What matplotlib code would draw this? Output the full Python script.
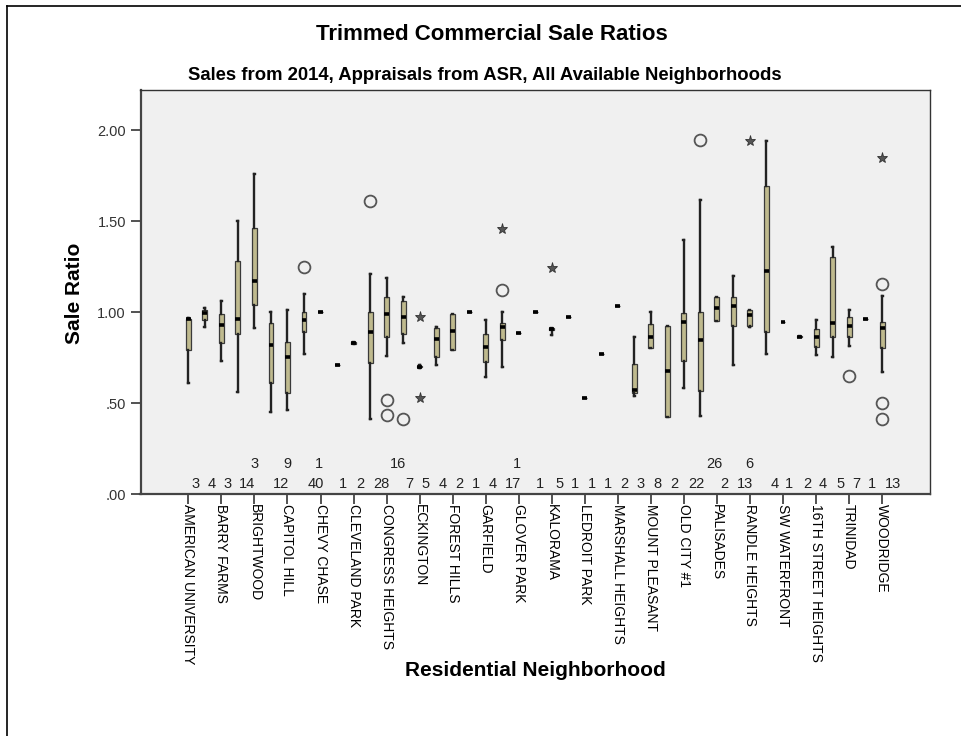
import numpy as np
import matplotlib.pyplot as plt
from matplotlib.lines import Line2D

plt.rcParams['font.family'] = ['Liberation Sans', 'DejaVu Sans']

# labelled neighborhoods (every other category carries a tick label)
labels = ["AMERICAN UNIVERSITY", "BARRY FARMS", "BRIGHTWOOD", "CAPITOL HILL",
          "CHEVY CHASE", "CLEVELAND PARK", "CONGRESS HEIGHTS", "ECKINGTON",
          "FOREST HILLS", "GARFIELD", "GLOVER PARK", "KALORAMA", "LEDROIT PARK",
          "MARSHALL HEIGHTS", "MOUNT PLEASANT", "OLD CITY #1", "PALISADES",
          "RANDLE HEIGHTS", "SW WATERFRONT", "16TH STREET HEIGHTS", "TRINIDAD",
          "WOODRIDGE"]

# five-number summaries for the 43 neighborhoods, left to right
whislo = [0.61, 0.92, 0.73, 0.56, 0.91, 0.45, 0.46, 0.77, 1.00, 0.71, 0.83,
          0.41, 0.76, 0.83, 0.695, 0.71, 0.79, 1.00, 0.645, 0.70, 0.885, 1.00,
          0.875, 0.975, 0.525, 0.77, 1.035, 0.54, 0.80, 0.425, 0.58, 0.43,
          0.95, 0.71, 0.915, 0.77, 0.945, 0.865, 0.765, 0.755, 0.815, 0.96, 0.67]
q1 = [0.79, 0.955, 0.83, 0.88, 1.04, 0.61, 0.555, 0.89, 1.00, 0.71, 0.825,
      0.72, 0.865, 0.88, 0.697, 0.755, 0.79, 1.00, 0.725, 0.845, 0.885, 1.00,
      0.90, 0.975, 0.525, 0.77, 1.035, 0.555, 0.80, 0.425, 0.73, 0.565,
      0.95, 0.925, 0.925, 0.89, 0.945, 0.86, 0.81, 0.865, 0.86, 0.96, 0.805]
med = [0.96, 0.995, 0.93, 0.96, 1.17, 0.82, 0.755, 0.955, 1.00, 0.71, 0.83,
       0.89, 0.99, 0.97, 0.70, 0.85, 0.895, 1.00, 0.81, 0.915, 0.885, 1.00,
       0.905, 0.975, 0.525, 0.77, 1.035, 0.57, 0.86, 0.675, 0.945, 0.845,
       1.02, 1.035, 0.985, 1.225, 0.945, 0.865, 0.86, 0.94, 0.925, 0.96, 0.91]
q3 = [0.96, 1.01, 0.99, 1.28, 1.46, 0.94, 0.835, 1.00, 1.00, 0.71, 0.835,
      1.00, 1.08, 1.06, 0.705, 0.91, 0.99, 1.00, 0.88, 0.94, 0.885, 1.00,
      0.912, 0.975, 0.525, 0.77, 1.035, 0.715, 0.935, 0.925, 0.995, 1.00,
      1.08, 1.08, 1.01, 1.69, 0.945, 0.87, 0.905, 1.30, 0.97, 0.96, 0.945]
whishi = [0.965, 1.02, 1.06, 1.50, 1.76, 1.00, 1.01, 1.10, 1.00, 0.71, 0.835,
          1.21, 1.185, 1.085, 0.71, 0.92, 0.99, 1.00, 0.955, 1.00, 0.885, 1.00,
          0.912, 0.975, 0.525, 0.77, 1.035, 0.865, 1.00, 0.925, 1.395, 1.615,
          1.08, 1.20, 1.01, 1.94, 0.945, 0.87, 0.955, 1.36, 1.01, 0.96, 1.09]

# outliers (circles) and extremes (stars) by category index
outliers = {7: [1.25], 11: [1.61], 12: [0.515, 0.435], 13: [0.41], 19: [1.12],
            31: [1.945], 40: [0.65], 42: [1.155, 0.50, 0.41]}
extremes = {14: [0.975, 0.53], 19: [1.455], 22: [1.24], 34: [1.94], 42: [1.845]}

# numbers printed along the bottom of the plot
low_text = ["3", "4", "3", "14", "12", "40", "1", "2", "28", "7", "5", "4", "2",
            "1", "4", "17", "1", "5", "1", "1", "1", "2", "3", "8", "2", "22",
            "2", "13", "4", "1", "2", "4", "5", "7", "1", "13"]
low_pos = [0.42, 1.44, 2.38, 3.56, 5.58, 7.70, 9.38, 10.38, 11.70, 13.35, 14.36,
           15.38, 16.38, 17.39, 18.41, 19.65, 21.3, 22.44, 23.39, 24.41, 25.38,
           26.42, 27.39, 28.41, 29.41, 30.73, 32.44, 33.72, 35.52, 36.38, 37.45,
           38.41, 39.47, 40.42, 41.38, 42.65]
up_text = ["3", "9", "1", "16", "1", "26", "6"]
up_pos = [4.0, 5.98, 7.9, 12.71, 19.92, 31.84, 33.96]

n = len(med)
positions = np.arange(n)
stats = []
for i in range(n):
    stats.append(dict(whislo=whislo[i], q1=q1[i], med=med[i], q3=q3[i],
                      whishi=whishi[i], fliers=outliers.get(i, [])))

fig = plt.figure(figsize=(9.61, 7.36), dpi=100)
ax = fig.add_axes([140.5 / 961, 1 - 494 / 736, (930 - 140.5) / 961, (494 - 90) / 736])
ax.set_facecolor('#f0f0f0')

ax.bxp(stats, positions=positions, widths=0.3, patch_artist=True,
       boxprops=dict(facecolor='#bfba8e', edgecolor='#3a3a3a', linewidth=0.9),
       whiskerprops=dict(color='#222222', linewidth=1.7),
       capprops=dict(color='#222222', linewidth=1.7),
       capwidths=0.06,
       medianprops=dict(color='black', linewidth=2.6, solid_capstyle='butt'),
       flierprops=dict(marker='o', markerfacecolor='none', markeredgecolor='#555555',
                       markersize=8.5, markeredgewidth=1.3))

for i, vals in extremes.items():
    ax.plot([i] * len(vals), vals, linestyle='none', marker='*', markersize=8,
            markerfacecolor='#555555', markeredgecolor='#333333', markeredgewidth=0.6)

for t, p in zip(low_text, low_pos):
    ax.text(p, 0.055, t, ha='center', va='center', fontsize=10.5, color='#222222')
for t, p in zip(up_text, up_pos):
    ax.text(p, 0.165, t, ha='center', va='center', fontsize=10.5, color='#222222')

ax.set_xlim(-2.9, n - 1 + 2.9)
ax.set_ylim(0, 2.22)
ax.set_yticks([0, 0.5, 1.0, 1.5, 2.0])
ax.set_yticklabels(['.00', '.50', '1.00', '1.50', '2.00'], fontsize=10.5, color='#333333')
ax.set_xticks(positions[::2])
ax.set_xticklabels(labels, rotation=-90, fontsize=10, va='top', ha='center')
ax.tick_params(axis='both', direction='out', length=7, width=1.3, color='#444444')
ax.tick_params(axis='x', pad=0)

for side in ['left', 'bottom']:
    ax.spines[side].set_linewidth(1.6)
    ax.spines[side].set_color('#444444')
for side in ['top', 'right']:
    ax.spines[side].set_linewidth(1.0)
    ax.spines[side].set_color('#333333')

fig.text(75 / 961, 1 - 293 / 736, 'Sale Ratio', rotation=90, ha='center', va='center',
         fontsize=15, fontweight='bold')
fig.text(535 / 961, 1 - 670 / 736, 'Residential Neighborhood', ha='center', va='center',
         fontsize=15, fontweight='bold')
fig.text(492 / 961, 1 - 34 / 736, 'Trimmed Commercial Sale Ratios', ha='center',
         va='center', fontsize=16, fontweight='bold')
fig.text(485 / 961, 1 - 75 / 736,
         'Sales from 2014, Appraisals from ASR, All Available Neighborhoods',
         ha='center', va='center', fontsize=13.3, fontweight='bold')

# outer frame of the exported chart (top and left edges visible)
fig.add_artist(Line2D([7 / 961, 1], [1 - 6 / 736, 1 - 6 / 736], color='black', linewidth=1.2))
fig.add_artist(Line2D([7 / 961, 7 / 961], [0, 1 - 6 / 736], color='black', linewidth=1.2))

fig.savefig('out.png', dpi=100)
